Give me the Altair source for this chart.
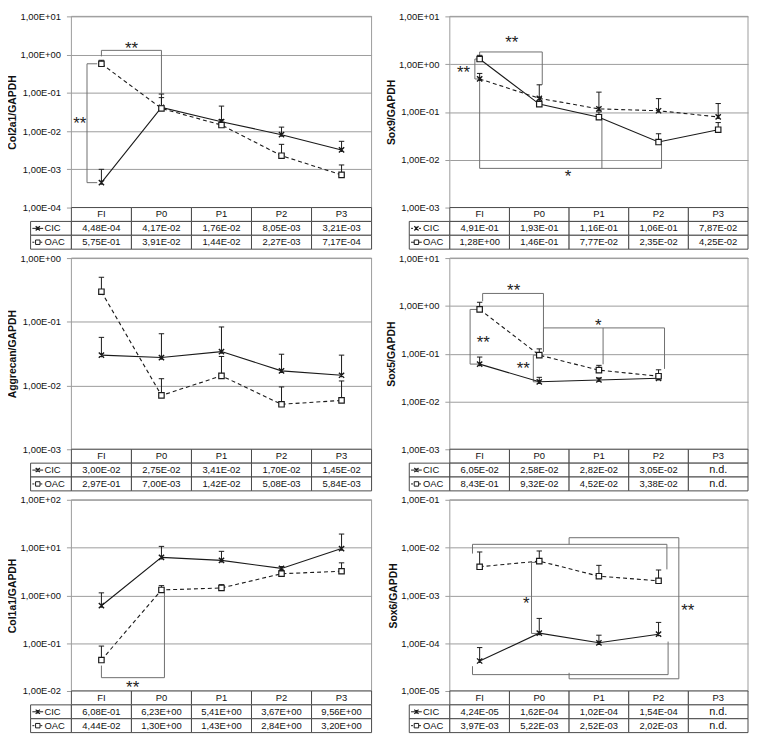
import math
import altair as alt
import pandas as pd

CATS = ["FI", "P0", "P1", "P2", "P3"]

# ---- Col2a1 ----
COL2A1_CIC = [4.48e-4, 4.17e-2, 1.76e-2, 8.05e-3, 3.21e-3]
COL2A1_OAC = [5.75e-1, 3.91e-2, 1.44e-2, 2.27e-3, 7.17e-4]
COL2A1_CIC_TOP = [1.0e-3, 9.3e-2, 4.5e-2, 1.27e-2, 5.4e-3]
COL2A1_OAC_TOP = [7.1e-1, 7.5e-2, 2.0e-2, 4.5e-3, 1.3e-3]
COL2A1_BRACKETS = [
    [(0.0, 0.9), (0.0, 1.29), (1.0, 1.29), (1.0, 0.095)],
    [(-0.07, 0.575), (-0.24, 0.575), (-0.24, 4.48e-4), (-0.07, 4.48e-4)],
]
COL2A1_STARS = [(0.5, 1.75, "**"), (-0.36, 0.019, "**")]

# ---- Sox9 ----
SOX9_CIC = [4.91e-1, 1.93e-1, 1.16e-1, 1.06e-1, 7.87e-2]
SOX9_OAC = [1.28e0, 1.46e-1, 7.77e-2, 2.35e-2, 4.25e-2]
SOX9_CIC_TOP = [0.64, 0.37, 0.26, 0.19, 0.15]
SOX9_OAC_TOP = [1.53, 0.2, 0.1, 0.035, 0.06]
SOX9_BRACKETS = [
    [(0.0, 1.47), (0.0, 1.8), (1.05, 1.8), (1.05, 0.37)],
    [(0.03, 1.28), (-0.08, 1.28), (-0.08, 0.49), (0.03, 0.49)],
    [(0.0, 0.46), (0.0, 0.0066), (3.05, 0.0066), (3.05, 0.021)],
    [(2.05, 0.0066), (2.05, 0.072)],
]
SOX9_STARS = [(0.54, 3.4, "**"), (-0.27, 0.8, "**"), (1.48, 0.0052, "*")]

# ---- Aggrecan ----
AGG_CIC = [3.00e-2, 2.75e-2, 3.41e-2, 1.70e-2, 1.45e-2]
AGG_OAC = [2.97e-1, 7.00e-3, 1.42e-2, 5.08e-3, 5.84e-3]
AGG_CIC_TOP = [0.057, 0.065, 0.083, 0.031, 0.030]
AGG_OAC_TOP = [0.50, 0.0128, 0.0286, 0.0095, 0.0118]

# ---- Sox5 ----
SOX5_CIC = [6.05e-2, 2.58e-2, 2.82e-2, 3.05e-2, None]
SOX5_OAC = [8.43e-1, 9.32e-2, 4.52e-2, 3.38e-2, None]
SOX5_CIC_TOP = [0.085, 0.032, 0.031, 0.034, None]
SOX5_OAC_TOP = [1.19, 0.126, 0.057, 0.046, None]
SOX5_BRACKETS = [
    [(0.05, 1.25), (0.05, 1.82), (1.07, 1.82), (1.07, 0.11)],
    [(0.0, 0.843), (-0.16, 0.843), (-0.16, 0.0605), (0.0, 0.0605)],
    [(1.0, 0.0932), (0.9, 0.0932), (0.9, 0.0258), (1.0, 0.0258)],
    [(1.07, 0.11), (1.07, 0.346), (3.1, 0.346), (3.1, 0.048)],
    [(2.07, 0.346), (2.07, 0.06)],
]
SOX5_STARS = [(0.57, 2.5, "**"), (0.06, 0.2, "**"), (0.73, 0.059, "**"), (1.99, 0.46, "*")]

# ---- Col1a1 ----
COL1A1_CIC = [6.08e-1, 6.23e0, 5.41e0, 3.67e0, 9.56e0]
COL1A1_OAC = [4.44e-2, 1.30e0, 1.43e0, 2.84e0, 3.20e0]
COL1A1_CIC_TOP = [1.13, 10.6, 8.35, 4.0, 19.2]
COL1A1_OAC_TOP = [0.087, 1.6, 1.68, 3.3, 4.8]
COL1A1_BRACKETS = [
    [(0.0, 0.034), (0.0, 0.019), (1.05, 0.019), (1.05, 1.15)],
]
COL1A1_STARS = [(0.52, 0.0138, "**")]

# ---- Sox6 ----
SOX6_CIC = [4.24e-5, 1.62e-4, 1.02e-4, 1.54e-4, None]
SOX6_OAC = [3.97e-3, 5.22e-3, 2.52e-3, 2.02e-3, None]
SOX6_CIC_TOP = [8.1e-5, 3.3e-4, 1.47e-4, 2.72e-4, None]
SOX6_OAC_TOP = [0.0081, 0.0085, 0.00425, 0.0034, None]
SOX6_BRACKETS = [
    [(-0.12, 0.0075), (-0.12, 0.0117), (3.14, 0.0117), (3.14, 0.0035)],
    [(1.5, 0.0117), (1.5, 0.0161), (3.34, 0.0161), (3.34, 1.8e-5), (1.5, 1.8e-5), (1.5, 2.4e-5)],
    [(-0.12, 3.3e-5), (-0.12, 2.2e-5), (3.16, 2.2e-5), (3.16, 1.08e-4)],
    [(1.0, 0.0049), (0.87, 0.0049), (0.87, 1.6e-4), (1.0, 1.6e-4)],
]
SOX6_STARS = [(3.49, 5.7e-4, "**"), (0.78, 7.9e-4, "*")]

FONT = "Liberation Sans"
LINE = "#1a1a1a"
GRID = "#9c9c9c"
BRK = "#6e6e6e"
TBL = "#4a4a4a"
TXT = "#111111"
PH = 193
TH = 42
WL = 303
WR = 301
LEGW = 0.68
XPATH = "M-1,-1L1,1M-1,1L1,-1M0,-0.8L0,0.8"
DASH = [4, 3]
LBL = ("'1,00E' + (datum.value >= 1 ? '+' : '-') + "
       "(abs(round(log(datum.value)/LN10)) < 10 ? '0' : '') + abs(round(log(datum.value)/LN10))")


def fmt(v):
    if v is None:
        return "n.d."
    return f"{v:.2E}".replace(".", ",")


def panel(ytitle, lo, hi, cic, oac, cic_top, oac_top, cic_dashed, brackets, stars, W):
    xs = alt.Scale(domain=[-0.5, 4.5], nice=False, zero=False)
    ys = alt.Scale(type="log", domain=[lo, hi], nice=False)
    e0 = round(math.log10(lo))
    e1 = round(math.log10(hi))
    decades = [10.0 ** e for e in range(e0, e1 + 1)]
    yaxis = alt.Axis(values=decades, labelExpr=LBL, title=ytitle, grid=True,
                     gridColor=GRID, gridWidth=1, domain=False, ticks=True,
                     tickColor=GRID, tickSize=5, labelPadding=6, labelFont=FONT,
                     labelFontSize=9.5, labelColor=TXT, labelFlush=False,
                     labelOverlap=False, titleFont=FONT, titleFontSize=10.5,
                     titleFontWeight="bold", titleColor="#111", titlePadding=2)

    def YY(field):
        return alt.Y(field, scale=ys, axis=yaxis)

    pts = []
    for i, cat in enumerate(CATS):
        for s, vals, tops in (("CIC", cic, cic_top), ("OAC", oac, oac_top)):
            if vals[i] is None:
                continue
            pts.append({"xi": i, "xa": i - 0.045, "xb": i + 0.045, "series": s,
                        "value": vals[i], "top": tops[i]})
    pdf = pd.DataFrame(pts)

    X = alt.X("xi:Q", scale=xs, axis=None)

    frame = alt.Chart(pd.DataFrame({"x1": [-0.5], "x2": [4.5], "y1": [lo], "y2": [hi]})).mark_rect(
        fillOpacity=0, stroke=GRID, strokeWidth=1).encode(
        x=alt.X("x1:Q", scale=xs, axis=None), x2="x2:Q",
        y=YY("y1:Q"), y2="y2:Q")

    brows = []
    for b, poly in enumerate(brackets):
        for k, (bx, by) in enumerate(poly):
            brows.append({"bid": b, "ord": k, "bx": bx, "by": by})
    layers = [frame]
    if brows:
        layers.append(alt.Chart(pd.DataFrame(brows)).mark_line(color=BRK, strokeWidth=1).encode(
            x=alt.X("bx:Q", scale=xs, axis=None), y=YY("by:Q"),
            detail="bid:N", order="ord:Q"))

    base = alt.Chart(pdf)
    layers.append(base.mark_rule(color=LINE, strokeWidth=1).encode(x=X, y=YY("value:Q"), y2="top:Q"))
    layers.append(base.mark_rule(color=LINE, strokeWidth=1).encode(
        x=alt.X("xa:Q", scale=xs, axis=None), x2="xb:Q", y=YY("top:Q")))

    for s, dashed in (("CIC", cic_dashed), ("OAC", not cic_dashed)):
        kw = {"strokeDash": DASH} if dashed else {}
        layers.append(base.transform_filter(alt.datum.series == s).mark_line(
            color=LINE, strokeWidth=1.1, **kw).encode(x=X, y=YY("value:Q")))
    layers.append(base.transform_filter(alt.datum.series == "CIC").mark_point(
        shape=XPATH, filled=False, stroke=LINE, strokeWidth=1.4, size=28, opacity=1).encode(
        x=X, y=YY("value:Q")))
    layers.append(base.transform_filter(alt.datum.series == "OAC").mark_point(
        shape="square", filled=True, fill="white", stroke=LINE, strokeWidth=1.2, size=30,
        opacity=1).encode(x=X, y=YY("value:Q")))
    if stars:
        sdf = pd.DataFrame([{"sx": a, "sy": b, "st": t} for a, b, t in stars])
        layers.append(alt.Chart(sdf).mark_text(font=FONT, fontSize=17, color="#222",
                                               baseline="middle", dy=4).encode(
            x=alt.X("sx:Q", scale=xs, axis=None), y=YY("sy:Q"), text="st:N"))
    plot = alt.layer(*layers).properties(width=W, height=PH)

    # ---- data table ----
    ty = alt.Scale(domain=[0, 3], nice=False, zero=False, reverse=True)
    cells = []
    for i, cat in enumerate(CATS):
        cells.append({"x1": i - 0.5, "x2": i + 0.5, "r1": 0, "r2": 1, "tx": i, "ry": 0.5,
                      "label": cat, "nd": False})
    for r, vals in ((1, cic), (2, oac)):
        cells.append({"x1": -0.5 - LEGW, "x2": -0.5, "r1": r, "r2": r + 1, "tx": -0.84,
                      "ry": r + 0.5, "label": "", "nd": False})
        for i, v in enumerate(vals):
            cells.append({"x1": i - 0.5, "x2": i + 0.5, "r1": r, "r2": r + 1, "tx": i,
                          "ry": r + 0.5, "label": fmt(v), "nd": v is None})
    cdf = pd.DataFrame(cells)
    TX = alt.X("tx:Q", scale=xs, axis=None)
    TY = alt.Y("ry:Q", scale=ty, axis=None)
    tlayers = [
        alt.Chart(cdf).mark_rect(fill="white", stroke=TBL, strokeWidth=1).encode(
            x=alt.X("x1:Q", scale=xs, axis=None), x2="x2:Q",
            y=alt.Y("r1:Q", scale=ty, axis=None), y2="r2:Q"),
        alt.Chart(cdf).transform_filter("!datum.nd").mark_text(
            font=FONT, fontSize=9.5, color=TXT, baseline="middle").encode(x=TX, y=TY, text="label:N"),
        alt.Chart(cdf).transform_filter("datum.nd").mark_text(
            font=FONT, fontSize=11, color=TXT, baseline="middle").encode(x=TX, y=TY, text="label:N"),
    ]
    leg = pd.DataFrame([
        {"series": "CIC", "la": -1.15, "lb": -0.97, "lm": -1.06, "lt": -0.95, "ry": 1.5},
        {"series": "OAC", "la": -1.15, "lb": -0.97, "lm": -1.06, "lt": -0.95, "ry": 2.5},
    ])
    for s, dashed in (("CIC", cic_dashed), ("OAC", not cic_dashed)):
        kw = {"strokeDash": [2, 2]} if dashed else {}
        lg = alt.Chart(leg).transform_filter(alt.datum.series == s)
        tlayers.append(lg.mark_rule(color=LINE, strokeWidth=1, **kw).encode(
            x=alt.X("la:Q", scale=xs, axis=None), x2="lb:Q", y=TY))
        if s == "CIC":
            tlayers.append(lg.mark_point(shape=XPATH, filled=False, stroke=LINE, strokeWidth=1.2,
                                         size=18, opacity=1).encode(
                x=alt.X("lm:Q", scale=xs, axis=None), y=TY))
        else:
            tlayers.append(lg.mark_point(shape="square", filled=True, fill="white", stroke=LINE,
                                         strokeWidth=1, size=20, opacity=1).encode(
                x=alt.X("lm:Q", scale=xs, axis=None), y=TY))
        tlayers.append(lg.mark_text(font=FONT, fontSize=9.5, color=TXT, align="left",
                                    baseline="middle").encode(
            x=alt.X("lt:Q", scale=xs, axis=None), y=TY, text="series:N"))
    table = alt.layer(*tlayers).properties(width=W, height=TH)

    return alt.vconcat(plot, table, spacing=0, bounds="flush")


p1 = panel("Col2a1/GAPDH", 1e-4, 1e1, COL2A1_CIC, COL2A1_OAC, COL2A1_CIC_TOP, COL2A1_OAC_TOP,
           False, COL2A1_BRACKETS, COL2A1_STARS, WL)
p2 = panel("Sox9/GAPDH", 1e-3, 1e1, SOX9_CIC, SOX9_OAC, SOX9_CIC_TOP, SOX9_OAC_TOP,
           True, SOX9_BRACKETS, SOX9_STARS, WR)
p3 = panel("Aggrecan/GAPDH", 1e-3, 1e0, AGG_CIC, AGG_OAC, AGG_CIC_TOP, AGG_OAC_TOP,
           False, [], [], WL)
p4 = panel("Sox5/GAPDH", 1e-3, 1e1, SOX5_CIC, SOX5_OAC, SOX5_CIC_TOP, SOX5_OAC_TOP,
           False, SOX5_BRACKETS, SOX5_STARS, WR)
p5 = panel("Col1a1/GAPDH", 1e-2, 1e2, COL1A1_CIC, COL1A1_OAC, COL1A1_CIC_TOP, COL1A1_OAC_TOP,
           False, COL1A1_BRACKETS, COL1A1_STARS, WL)
p6 = panel("Sox6/GAPDH", 1e-5, 1e-1, SOX6_CIC, SOX6_OAC, SOX6_CIC_TOP, SOX6_OAC_TOP,
           False, SOX6_BRACKETS, SOX6_STARS, WR)

left = alt.vconcat(p1, p3, p5, spacing=3)
right = alt.vconcat(p2, p4, p6, spacing=3)
chart = alt.hconcat(left, right, spacing=14).properties(
    padding=0,
    background="white",
).configure_view(strokeWidth=0)

chart.save("out.html", embed_options={"renderer": "svg", "actions": False})
